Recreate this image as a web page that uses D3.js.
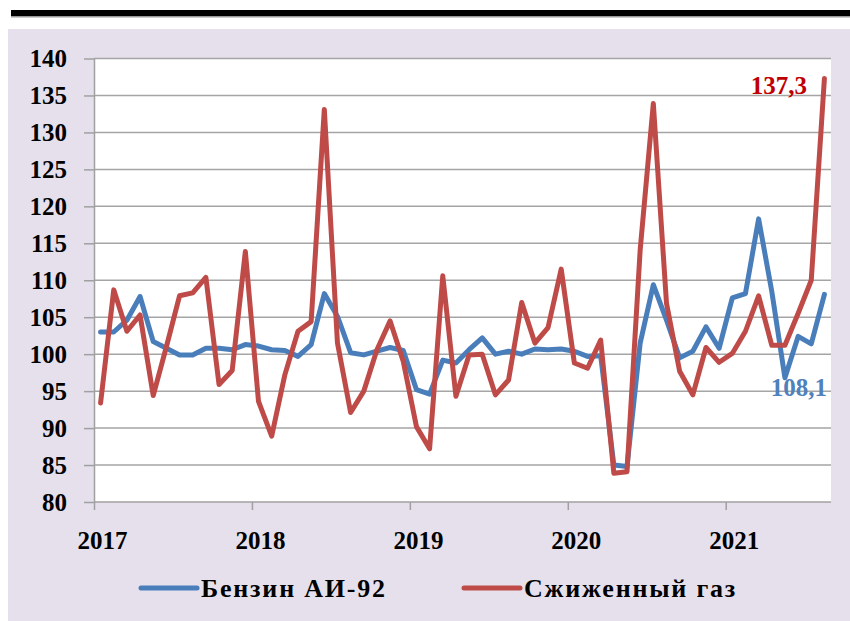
<!DOCTYPE html>
<html>
<head>
<meta charset="utf-8">
<script src="https://cdn.jsdelivr.net/npm/d3@7"></script>
<style>
  body { margin: 0; background: #fff; }
  svg { display: block; }
  text { font-family: "Liberation Serif", "Times New Roman", serif; font-weight: bold; }
</style>
</head>
<body>
<svg id="chart"></svg>
<script>
// monthly indices, Jan 2017 .. Aug 2021
const years = ['2017', '2018', '2019', '2020', '2021'];
const yTicks = [80, 85, 90, 95, 100, 105, 110, 115, 120, 125, 130, 135, 140];

const petrol = [
  103.0, 103.0, 104.6, 107.8, 101.7, 100.8, 99.9, 99.9, 100.8, 100.8, 100.6, 101.3,
  101.1, 100.6, 100.5, 99.7, 101.3, 108.2, 105.1, 100.2, 99.9, 100.4, 100.9, 100.5,
  95.2, 94.6, 99.2, 98.8, 100.6, 102.2, 100.0, 100.4, 100.0, 100.7, 100.6, 100.7,
  100.4, 99.7, 99.8, 85.0, 84.8, 101.5, 109.4, 104.6, 99.5, 100.4, 103.7, 100.8,
  107.6, 108.2, 118.3, 108.5, 96.8, 102.4, 101.4, 108.1
];
const lpg = [
  93.4, 108.7, 103.1, 105.3, 94.4, 101.0, 107.9, 108.3, 110.4, 95.9, 97.8, 113.9,
  93.6, 88.9, 97.2, 103.1, 104.4, 133.1, 101.5, 92.1, 95.0, 100.6, 104.5, 99.0,
  90.2, 87.2, 110.6, 94.3, 99.9, 100.0, 94.5, 96.5, 107.0, 101.5, 103.6, 111.5,
  98.8, 98.1, 101.9, 83.9, 84.1, 114.1, 133.9, 106.9, 97.7, 94.5, 100.9, 98.9,
  100.1, 103.1, 107.9, 101.2, 101.2, 105.5, 110.0, 137.3
];
const seriesNames = ['Бензин АИ-92', 'Сжиженный газ'];

const W = 850, H = 621;
const plot = { left: 94, right: 831, top: 58.5, bottom: 502 };
const blue = '#4A7EBB', red = '#BE4B48';

const svg = d3.select('#chart').attr('width', W).attr('height', H);

// frame
svg.append('rect').attr('x', 8).attr('y', 29).attr('width', W - 8).attr('height', H - 29).attr('fill', '#E5E0EC');
svg.append('rect').attr('x', 11).attr('y', 10).attr('width', W - 11).attr('height', 6).attr('fill', '#000');
svg.append('rect').attr('x', 11).attr('y', 16).attr('width', W - 11).attr('height', 1.5).attr('fill', '#999');

svg.append('rect')
  .attr('x', plot.left).attr('y', plot.top)
  .attr('width', plot.right - plot.left).attr('height', plot.bottom - plot.top)
  .attr('fill', '#fff');

const x = d3.scaleLinear().domain([0, petrol.length]).range([plot.left, plot.right]);
const y = d3.scaleLinear().domain([80, 140]).range([plot.bottom, plot.top]);

// grid
svg.append('g').selectAll('line').data(yTicks.slice(1)).join('line')
  .attr('x1', plot.left).attr('x2', plot.right)
  .attr('y1', d => y(d)).attr('y2', d => y(d))
  .attr('stroke', '#A5A5A5').attr('stroke-width', 1.5);

// y axis
const yAxis = d3.axisLeft(y).tickValues(yTicks).tickSize(10).tickSizeOuter(0).tickPadding(17);
const gy = svg.append('g').attr('transform', `translate(${plot.left},0)`).call(yAxis);
gy.selectAll('.domain, line').attr('stroke', '#A0A0A0').attr('stroke-width', 1.5);
gy.selectAll('text').attr('font-size', 25).attr('fill', '#000')
  .style('font-family', '"Liberation Serif", serif').style('font-weight', 'bold');

// x axis: ticks at year boundaries, labels centred on January
const xAxis = d3.axisBottom(x).tickValues(d3.range(0, petrol.length + 1, 12)).tickSize(8).tickSizeOuter(0).tickFormat('');
const gx = svg.append('g').attr('transform', `translate(0,${plot.bottom})`).call(xAxis);
gx.selectAll('.domain, line').attr('stroke', '#A0A0A0').attr('stroke-width', 1.5);
gx.select('.domain').attr('d', `M${plot.left},0H${plot.right}`);

svg.append('g').selectAll('text').data(years).join('text')
  .attr('x', (d, i) => x(i * 12 + 0.5) + 2)
  .attr('y', 549)
  .attr('text-anchor', 'middle')
  .attr('font-size', 25)
  .text(d => d);

// lines
const line = d3.line().x((d, i) => x(i + 0.5)).y(d => y(d));
[[petrol, blue], [lpg, red]].forEach(([data, color]) => {
  svg.append('path')
    .attr('d', line(data))
    .attr('fill', 'none')
    .attr('stroke', color)
    .attr('stroke-width', 5)
    .attr('stroke-linejoin', 'round')
    .attr('stroke-linecap', 'round');
});

// end labels
const last = petrol.length - 1;
svg.append('text')
  .attr('x', 807).attr('y', 93.5)
  .attr('text-anchor', 'end')
  .attr('font-size', 25).attr('fill', '#C00000')
  .text(String(lpg[last]).replace('.', ','));
svg.append('text')
  .attr('x', 827).attr('y', 396)
  .attr('text-anchor', 'end')
  .attr('font-size', 25).attr('fill', '#4F81BD')
  .text(String(petrol[last]).replace('.', ','));

// legend
const legend = [
  { name: seriesNames[0], color: blue, x0: 141 },
  { name: seriesNames[1], color: red, x0: 464 }
];
const lg = svg.append('g').selectAll('g').data(legend).join('g');
lg.append('line')
  .attr('x1', d => d.x0).attr('x2', d => d.x0 + 56)
  .attr('y1', 588).attr('y2', 588)
  .attr('stroke', d => d.color).attr('stroke-width', 5).attr('stroke-linecap', 'round');
lg.append('text')
  .attr('x', d => d.x0 + 60).attr('y', 597)
  .attr('font-size', 26)
  .attr('letter-spacing', 1.8)
  .text(d => d.name);
</script>
</body>
</html>
